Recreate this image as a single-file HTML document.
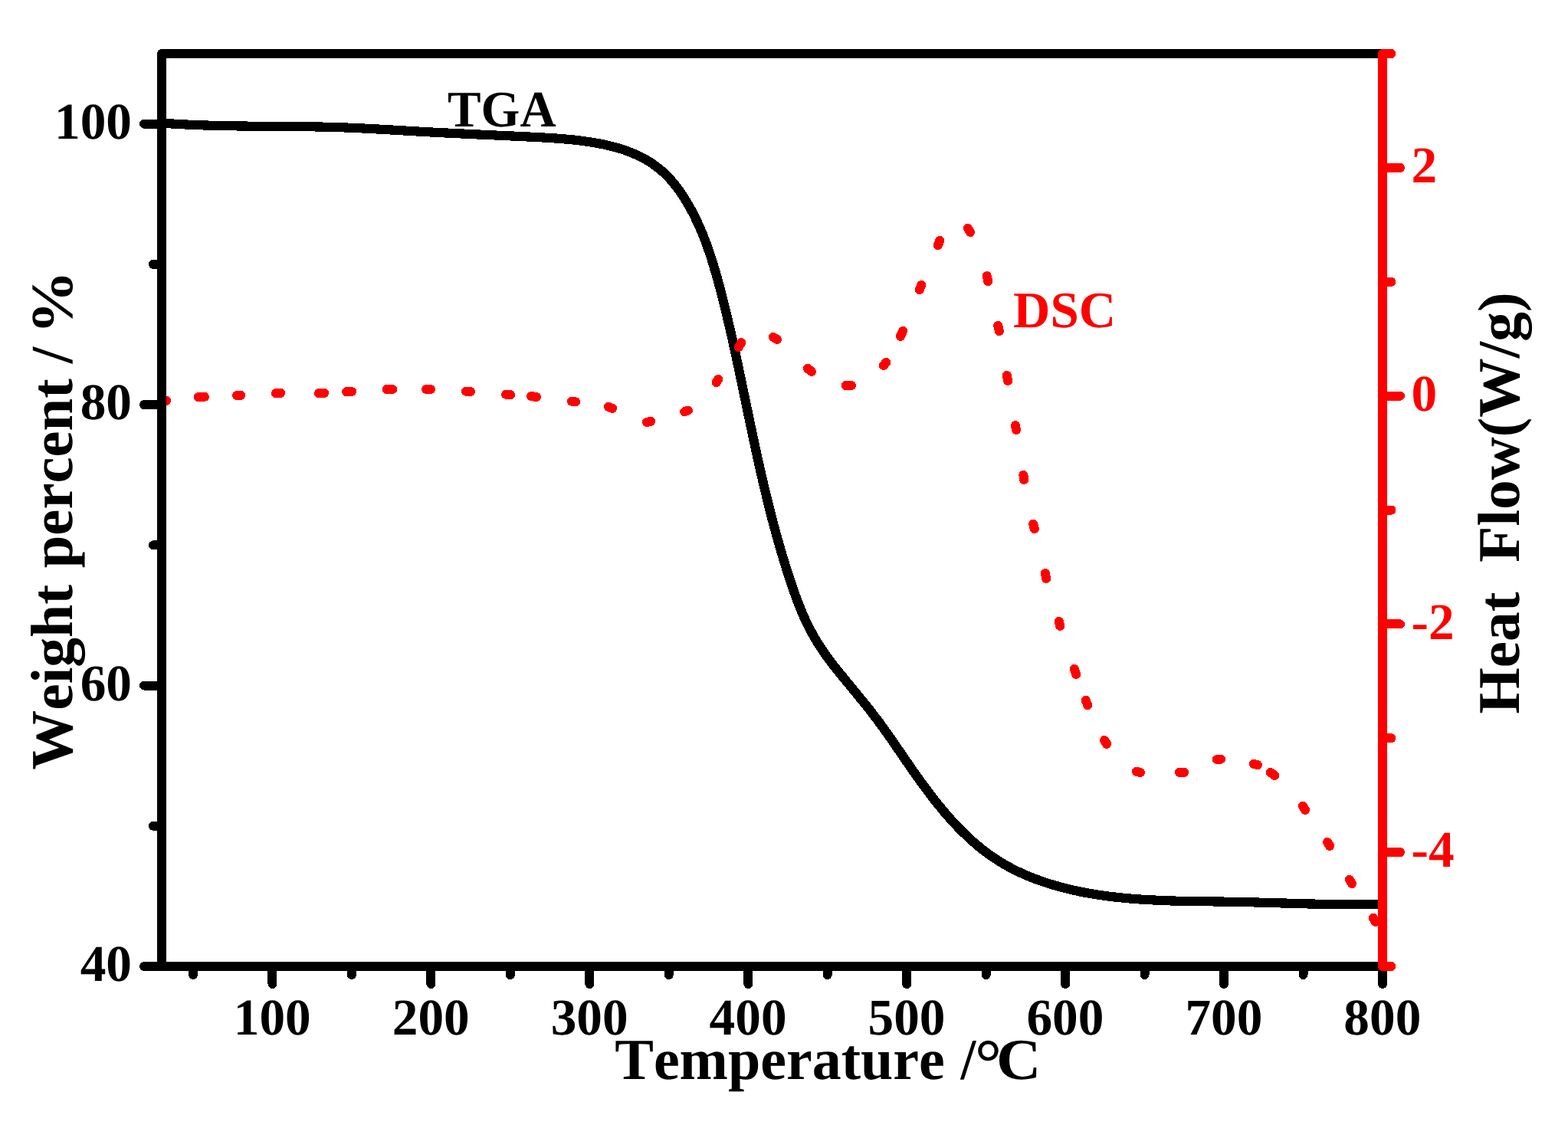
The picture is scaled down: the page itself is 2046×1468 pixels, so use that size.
<!DOCTYPE html>
<html lang="en"><head><meta charset="utf-8"><title>TGA / DSC</title>
<style>
html,body{margin:0;padding:0;background:#fff;}
body{width:2046px;height:1468px;overflow:hidden;}
svg{display:block;}
text{font-family:"Liberation Serif", "DejaVu Serif", serif;font-weight:bold;font-kerning:none;font-variant-ligatures:none;text-rendering:geometricPrecision;}
.ax{fill:none;stroke-width:12;stroke-linecap:round;stroke-linejoin:round;}
</style></head><body>
<svg xmlns="http://www.w3.org/2000/svg" width="2046" height="1468" viewBox="0 0 2046 1468">
<rect width="2046" height="1468" fill="#fff"/>
<path d="M211.0 160.5C212.2 160.6 215.7 160.9 218.0 161.0C220.3 161.2 222.7 161.4 225.0 161.5C227.3 161.7 229.7 161.8 232.0 161.9C234.3 162.1 236.7 162.2 239.0 162.3C241.3 162.4 243.7 162.5 246.0 162.7C248.3 162.8 250.7 162.9 253.0 163.0C255.3 163.1 257.7 163.1 260.0 163.2C262.3 163.3 264.7 163.4 267.0 163.5C269.3 163.5 271.7 163.6 274.0 163.7C276.3 163.8 278.7 163.8 281.0 163.9C283.4 163.9 285.7 164.0 288.0 164.0C290.4 164.1 292.7 164.1 295.0 164.2C297.4 164.2 299.7 164.3 302.0 164.3C304.4 164.3 306.7 164.4 309.1 164.4C311.4 164.4 313.7 164.5 316.1 164.5C318.4 164.5 320.7 164.5 323.1 164.6C325.4 164.6 327.8 164.6 330.1 164.6C332.4 164.6 334.8 164.7 337.1 164.7C339.4 164.7 341.8 164.7 344.1 164.7C346.5 164.8 348.8 164.8 351.1 164.8C353.5 164.8 355.8 164.8 358.1 164.8C360.5 164.9 362.8 164.9 365.2 164.9C367.5 164.9 369.8 164.9 372.2 164.9C374.5 165.0 376.9 165.0 379.2 165.0C381.5 165.0 383.9 165.0 386.2 165.1C388.5 165.1 390.9 165.1 393.2 165.1C395.6 165.2 397.9 165.2 400.2 165.2C402.6 165.3 404.9 165.3 407.2 165.3C409.6 165.4 411.9 165.4 414.2 165.5C416.6 165.5 418.9 165.6 421.3 165.6C423.6 165.7 425.9 165.7 428.3 165.8C430.6 165.8 432.9 165.9 435.3 166.0C437.6 166.0 439.9 166.1 442.3 166.2C444.6 166.3 446.9 166.4 449.3 166.4C451.6 166.5 453.9 166.6 456.3 166.7C458.6 166.8 460.9 166.9 463.3 167.0C465.6 167.1 467.9 167.2 470.3 167.3C472.6 167.4 474.9 167.6 477.3 167.7C479.6 167.8 481.9 167.9 484.3 168.0C486.6 168.2 488.9 168.3 491.3 168.4C493.6 168.5 495.9 168.7 498.3 168.8C500.6 168.9 502.9 169.0 505.2 169.2C507.6 169.3 509.9 169.4 512.2 169.6C514.6 169.7 516.9 169.9 519.2 170.0C521.6 170.1 523.9 170.3 526.2 170.4C528.6 170.5 530.9 170.7 533.2 170.8C535.6 170.9 537.9 171.1 540.2 171.2C542.6 171.4 544.9 171.5 547.2 171.6C549.6 171.8 551.9 171.9 554.2 172.0C556.6 172.2 558.9 172.3 561.2 172.4C563.6 172.5 565.9 172.7 568.2 172.8C570.6 172.9 572.9 173.0 575.2 173.2C577.6 173.3 579.9 173.4 582.2 173.5C584.6 173.6 586.9 173.7 589.3 173.9C591.6 174.0 593.9 174.1 596.3 174.2C598.6 174.3 600.9 174.4 603.3 174.5C605.6 174.6 607.9 174.7 610.3 174.9C612.6 175.0 614.9 175.1 617.3 175.2C619.6 175.3 622.0 175.4 624.3 175.5C626.6 175.6 629.0 175.7 631.3 175.8C633.6 175.9 636.0 176.0 638.3 176.1C640.6 176.2 643.0 176.3 645.3 176.4C647.6 176.6 650.0 176.7 652.3 176.8C654.6 176.9 657.0 177.0 659.3 177.1C661.6 177.2 664.0 177.3 666.3 177.4C668.6 177.5 671.0 177.6 673.3 177.7C675.6 177.8 678.0 177.9 680.3 178.1C682.6 178.2 685.0 178.3 687.3 178.4C689.6 178.5 692.0 178.6 694.3 178.7C696.6 178.8 698.9 179.0 701.3 179.1C703.6 179.2 705.9 179.3 708.3 179.5C710.6 179.6 712.9 179.7 715.2 179.9C717.6 180.0 719.9 180.2 722.2 180.3C724.5 180.5 726.9 180.6 729.2 180.8C731.5 181.0 733.8 181.2 736.2 181.4C738.5 181.6 740.8 181.8 743.1 182.0C745.4 182.2 747.8 182.5 750.1 182.7C752.4 183.0 754.7 183.3 757.1 183.5C759.4 183.8 761.7 184.1 764.0 184.5C766.3 184.8 768.7 185.1 771.0 185.5C773.3 185.9 775.6 186.2 777.9 186.7C780.2 187.1 782.6 187.5 784.9 188.0C787.2 188.4 789.5 188.9 791.8 189.4C794.1 189.9 796.3 190.5 798.6 191.1C800.9 191.6 803.1 192.2 805.4 192.9C807.6 193.5 809.9 194.2 812.1 194.9C814.3 195.7 816.5 196.4 818.7 197.2C820.9 198.0 823.1 198.9 825.2 199.8C827.4 200.7 829.5 201.6 831.6 202.6C833.7 203.5 835.8 204.6 837.9 205.7C839.9 206.7 842.0 207.9 844.0 209.0C846.0 210.2 848.0 211.5 849.9 212.7C851.8 214.0 853.8 215.4 855.6 216.7C857.5 218.1 859.3 219.6 861.1 221.0C862.9 222.5 864.7 224.1 866.4 225.6C868.1 227.2 869.8 228.9 871.4 230.5C873.0 232.2 874.6 233.9 876.1 235.7C877.7 237.4 879.2 239.3 880.6 241.1C882.1 242.9 883.5 244.8 884.9 246.7C886.3 248.6 887.6 250.5 888.9 252.4C890.2 254.4 891.5 256.3 892.8 258.3C894.0 260.3 895.2 262.3 896.4 264.3C897.6 266.3 898.8 268.3 899.9 270.3C901.1 272.4 902.2 274.4 903.3 276.5C904.4 278.5 905.4 280.6 906.5 282.7C907.5 284.8 908.5 286.9 909.5 289.0C910.5 291.1 911.5 293.2 912.4 295.3C913.4 297.4 914.3 299.6 915.2 301.7C916.1 303.9 917.0 306.0 917.8 308.2C918.7 310.4 919.5 312.5 920.4 314.7C921.2 316.9 922.0 319.1 922.8 321.3C923.6 323.5 924.3 325.7 925.1 327.9C925.9 330.1 926.6 332.4 927.3 334.6C928.1 336.8 928.8 339.0 929.5 341.3C930.2 343.5 930.9 345.7 931.5 348.0C932.2 350.2 932.9 352.5 933.5 354.7C934.2 357.0 934.8 359.2 935.5 361.5C936.1 363.8 936.7 366.0 937.3 368.3C938.0 370.6 938.6 372.8 939.2 375.1C939.8 377.3 940.4 379.6 941.0 381.9C941.6 384.2 942.1 386.4 942.7 388.7C943.3 391.0 943.9 393.2 944.4 395.5C945.0 397.8 945.6 400.0 946.1 402.3C946.7 404.6 947.2 406.8 947.8 409.1C948.3 411.4 948.9 413.7 949.4 415.9C950.0 418.2 950.5 420.5 951.0 422.8C951.5 425.0 952.1 427.3 952.6 429.6C953.1 431.9 953.6 434.1 954.2 436.4C954.7 438.7 955.2 441.0 955.7 443.2C956.2 445.5 956.7 447.8 957.2 450.1C957.7 452.3 958.2 454.6 958.7 456.9C959.2 459.2 959.7 461.5 960.2 463.7C960.7 466.0 961.2 468.3 961.7 470.6C962.2 472.9 962.6 475.1 963.1 477.4C963.6 479.7 964.1 482.0 964.6 484.3C965.1 486.6 965.5 488.8 966.0 491.1C966.5 493.4 967.0 495.7 967.5 498.0C967.9 500.3 968.4 502.5 968.9 504.8C969.4 507.1 969.8 509.4 970.3 511.7C970.8 514.0 971.3 516.3 971.7 518.5C972.2 520.8 972.7 523.1 973.2 525.4C973.7 527.7 974.1 530.0 974.6 532.3C975.1 534.5 975.6 536.8 976.0 539.1C976.5 541.4 977.0 543.7 977.5 546.0C978.0 548.3 978.4 550.6 978.9 552.8C979.4 555.1 979.9 557.4 980.4 559.7C980.8 562.0 981.3 564.3 981.8 566.6C982.3 568.8 982.8 571.1 983.3 573.4C983.8 575.7 984.3 578.0 984.7 580.3C985.2 582.6 985.7 584.8 986.2 587.1C986.7 589.4 987.2 591.7 987.7 594.0C988.2 596.3 988.7 598.5 989.2 600.8C989.7 603.1 990.3 605.4 990.8 607.7C991.3 609.9 991.8 612.2 992.3 614.5C992.8 616.8 993.3 619.1 993.9 621.3C994.4 623.6 994.9 625.9 995.4 628.2C996.0 630.4 996.5 632.7 997.0 635.0C997.6 637.3 998.1 639.5 998.7 641.8C999.2 644.1 999.8 646.4 1000.3 648.6C1000.9 650.9 1001.4 653.2 1002.0 655.4C1002.5 657.7 1003.1 660.0 1003.7 662.2C1004.2 664.5 1004.8 666.8 1005.4 669.0C1006.0 671.3 1006.6 673.6 1007.1 675.8C1007.7 678.1 1008.3 680.3 1008.9 682.6C1009.5 684.9 1010.1 687.1 1010.7 689.4C1011.3 691.6 1012.0 693.9 1012.6 696.1C1013.2 698.4 1013.8 700.6 1014.4 702.9C1015.1 705.1 1015.7 707.4 1016.4 709.6C1017.0 711.9 1017.6 714.1 1018.3 716.4C1019.0 718.6 1019.6 720.9 1020.3 723.1C1020.9 725.3 1021.6 727.6 1022.3 729.8C1023.0 732.1 1023.7 734.3 1024.4 736.5C1025.1 738.8 1025.8 741.0 1026.5 743.2C1027.2 745.5 1027.9 747.7 1028.6 749.9C1029.3 752.1 1030.0 754.4 1030.8 756.6C1031.5 758.8 1032.3 761.0 1033.0 763.2C1033.8 765.5 1034.5 767.7 1035.3 769.9C1036.1 772.1 1036.9 774.3 1037.7 776.5C1038.4 778.7 1039.3 780.9 1040.1 783.1C1040.9 785.3 1041.7 787.5 1042.6 789.6C1043.5 791.8 1044.3 794.0 1045.2 796.1C1046.1 798.3 1047.0 800.4 1048.0 802.6C1048.9 804.7 1049.9 806.8 1050.8 808.9C1051.8 811.1 1052.8 813.2 1053.9 815.3C1054.9 817.3 1055.9 819.4 1057.0 821.5C1058.1 823.5 1059.2 825.6 1060.4 827.6C1061.5 829.6 1062.7 831.7 1063.8 833.7C1065.0 835.7 1066.2 837.6 1067.5 839.6C1068.7 841.6 1070.0 843.6 1071.2 845.5C1072.5 847.4 1073.8 849.4 1075.2 851.3C1076.5 853.2 1077.8 855.1 1079.2 857.0C1080.6 858.9 1081.9 860.8 1083.4 862.6C1084.8 864.5 1086.2 866.3 1087.6 868.2C1089.1 870.0 1090.5 871.8 1092.0 873.7C1093.4 875.5 1094.9 877.3 1096.4 879.1C1097.9 881.0 1099.3 882.8 1100.8 884.6C1102.3 886.4 1103.8 888.3 1105.3 890.1C1106.8 891.9 1108.3 893.7 1109.8 895.5C1111.3 897.3 1112.8 899.2 1114.3 901.0C1115.8 902.8 1117.3 904.6 1118.8 906.5C1120.3 908.3 1121.7 910.1 1123.2 911.9C1124.7 913.8 1126.2 915.6 1127.7 917.4C1129.1 919.2 1130.6 921.1 1132.1 922.9C1133.5 924.7 1135.0 926.6 1136.4 928.4C1137.8 930.3 1139.3 932.1 1140.7 934.0C1142.1 935.8 1143.5 937.7 1144.9 939.5C1146.3 941.4 1147.7 943.3 1149.1 945.1C1150.4 947.0 1151.8 948.9 1153.1 950.7C1154.5 952.6 1155.8 954.5 1157.2 956.4C1158.5 958.3 1159.8 960.1 1161.1 962.0C1162.5 963.9 1163.8 965.8 1165.1 967.7C1166.4 969.6 1167.7 971.5 1169.0 973.4C1170.3 975.3 1171.6 977.2 1172.9 979.1C1174.2 981.0 1175.6 982.9 1176.9 984.9C1178.2 986.8 1179.5 988.7 1180.8 990.6C1182.1 992.5 1183.4 994.4 1184.8 996.4C1186.1 998.3 1187.4 1000.2 1188.8 1002.1C1190.1 1004.0 1191.4 1006.0 1192.8 1007.9C1194.1 1009.8 1195.5 1011.7 1196.9 1013.6C1198.2 1015.6 1199.6 1017.5 1201.0 1019.4C1202.4 1021.3 1203.8 1023.2 1205.2 1025.1C1206.6 1027.0 1208.0 1028.9 1209.4 1030.8C1210.8 1032.7 1212.2 1034.6 1213.7 1036.5C1215.1 1038.4 1216.6 1040.3 1218.0 1042.1C1219.5 1044.0 1220.9 1045.9 1222.4 1047.7C1223.9 1049.6 1225.4 1051.4 1226.9 1053.2C1228.4 1055.1 1229.9 1056.9 1231.4 1058.7C1233.0 1060.5 1234.5 1062.3 1236.0 1064.1C1237.6 1065.8 1239.2 1067.6 1240.7 1069.4C1242.3 1071.1 1243.9 1072.9 1245.5 1074.6C1247.1 1076.3 1248.7 1078.0 1250.3 1079.7C1252.0 1081.4 1253.6 1083.1 1255.3 1084.7C1256.9 1086.4 1258.6 1088.0 1260.3 1089.6C1262.0 1091.2 1263.7 1092.8 1265.4 1094.4C1267.1 1096.0 1268.8 1097.5 1270.6 1099.1C1272.3 1100.6 1274.1 1102.1 1275.9 1103.6C1277.7 1105.1 1279.4 1106.5 1281.3 1108.0C1283.1 1109.4 1284.9 1110.8 1286.8 1112.2C1288.6 1113.6 1290.5 1114.9 1292.4 1116.3C1294.2 1117.6 1296.1 1118.9 1298.1 1120.2C1300.0 1121.5 1301.9 1122.7 1303.9 1123.9C1305.8 1125.1 1307.8 1126.3 1309.8 1127.5C1311.8 1128.6 1313.8 1129.8 1315.8 1130.9C1317.8 1132.0 1319.9 1133.1 1321.9 1134.1C1324.0 1135.2 1326.1 1136.2 1328.2 1137.2C1330.2 1138.2 1332.3 1139.2 1334.5 1140.1C1336.6 1141.1 1338.7 1142.0 1340.8 1142.9C1343.0 1143.8 1345.1 1144.7 1347.3 1145.5C1349.5 1146.4 1351.7 1147.2 1353.8 1148.0C1356.0 1148.8 1358.2 1149.6 1360.4 1150.3C1362.6 1151.1 1364.9 1151.8 1367.1 1152.5C1369.3 1153.3 1371.6 1154.0 1373.8 1154.6C1376.1 1155.3 1378.3 1155.9 1380.6 1156.6C1382.8 1157.2 1385.1 1157.8 1387.4 1158.4C1389.7 1159.0 1392.0 1159.6 1394.3 1160.1C1396.5 1160.7 1398.8 1161.2 1401.1 1161.7C1403.5 1162.2 1405.8 1162.7 1408.1 1163.2C1410.4 1163.7 1412.7 1164.1 1415.0 1164.6C1417.3 1165.0 1419.7 1165.4 1422.0 1165.8C1424.3 1166.2 1426.6 1166.6 1429.0 1167.0C1431.3 1167.4 1433.6 1167.7 1436.0 1168.1C1438.3 1168.4 1440.6 1168.8 1443.0 1169.1C1445.3 1169.4 1447.6 1169.7 1450.0 1170.0C1452.3 1170.3 1454.6 1170.5 1457.0 1170.8C1459.3 1171.0 1461.6 1171.3 1464.0 1171.5C1466.3 1171.8 1468.6 1172.0 1471.0 1172.2C1473.3 1172.4 1475.6 1172.6 1477.9 1172.8C1480.3 1173.0 1482.6 1173.1 1484.9 1173.3C1487.3 1173.5 1489.6 1173.6 1491.9 1173.8C1494.2 1173.9 1496.6 1174.1 1498.9 1174.2C1501.2 1174.3 1503.5 1174.4 1505.9 1174.5C1508.2 1174.7 1510.5 1174.8 1512.8 1174.9C1515.2 1175.0 1517.5 1175.0 1519.8 1175.1C1522.1 1175.2 1524.5 1175.3 1526.8 1175.4C1529.1 1175.4 1531.4 1175.5 1533.8 1175.6C1536.1 1175.6 1538.4 1175.7 1540.7 1175.7C1543.1 1175.8 1545.4 1175.8 1547.7 1175.9C1550.0 1175.9 1552.4 1176.0 1554.7 1176.0C1557.0 1176.0 1559.3 1176.1 1561.7 1176.1C1564.0 1176.1 1566.3 1176.2 1568.7 1176.2C1571.0 1176.2 1573.3 1176.3 1575.6 1176.3C1578.0 1176.3 1580.3 1176.3 1582.6 1176.4C1585.0 1176.4 1587.3 1176.4 1589.6 1176.5C1591.9 1176.5 1594.3 1176.5 1596.6 1176.6C1598.9 1176.6 1601.3 1176.6 1603.6 1176.7C1605.9 1176.7 1608.3 1176.8 1610.6 1176.8C1612.9 1176.8 1615.3 1176.9 1617.6 1176.9C1620.0 1177.0 1622.3 1177.0 1624.6 1177.1C1627.0 1177.2 1629.3 1177.2 1631.6 1177.3C1634.0 1177.3 1636.3 1177.4 1638.7 1177.5C1641.0 1177.5 1643.3 1177.6 1645.7 1177.7C1648.0 1177.7 1650.4 1177.8 1652.7 1177.9C1655.1 1177.9 1657.4 1178.0 1659.7 1178.1C1662.1 1178.1 1664.4 1178.2 1666.8 1178.3C1669.1 1178.3 1671.5 1178.4 1673.8 1178.5C1676.1 1178.5 1678.5 1178.6 1680.8 1178.7C1683.2 1178.7 1685.5 1178.8 1687.9 1178.9C1690.2 1179.0 1692.5 1179.0 1694.9 1179.1C1697.2 1179.1 1699.6 1179.2 1701.9 1179.3C1704.3 1179.3 1706.6 1179.4 1708.9 1179.5C1711.3 1179.5 1713.6 1179.6 1716.0 1179.6C1718.3 1179.7 1720.6 1179.7 1723.0 1179.8C1725.3 1179.8 1727.7 1179.9 1730.0 1179.9C1732.3 1180.0 1734.7 1180.0 1737.0 1180.0C1739.4 1180.1 1741.7 1180.1 1744.0 1180.1C1746.4 1180.2 1748.7 1180.2 1751.0 1180.2C1753.4 1180.2 1755.7 1180.2 1758.0 1180.3C1760.4 1180.3 1762.7 1180.3 1765.0 1180.3C1767.4 1180.3 1769.7 1180.3 1772.0 1180.3C1774.4 1180.3 1776.7 1180.3 1779.0 1180.2C1781.3 1180.2 1783.7 1180.2 1786.0 1180.2C1788.3 1180.1 1790.6 1180.1 1793.0 1180.1C1795.3 1180.0 1798.8 1179.9 1799.9 1179.9" fill="none" stroke="#000" stroke-width="12.2" stroke-linejoin="round" stroke-linecap="butt" shape-rendering="crispEdges"/>
<path d="M210.8 523.2L217.2 522.8M258.8 518.2L267.0 517.8M309.0 516.0L314.2 515.8M359.9 513.1L366.1 512.9M416.0 513.1L423.0 512.9M452.1 511.2L459.1 511.0M504.7 508.0L512.1 508.0M556.0 508.0L562.0 508.0M608.0 510.7L614.0 511.1M660.1 514.8L666.1 515.2M693.1 517.0L700.1 518.0M745.9 523.7L751.1 524.3M793.9 530.9L799.1 532.9M843.9 551.0L849.1 549.8M893.1 537.3L897.9 535.7M934.8 499.1L937.2 494.9M963.9 452.9L967.3 447.1M1008.9 439.9L1014.1 442.9M1053.9 480.8L1059.1 485.0M1103.8 503.0L1111.0 503.0M1152.9 476.9L1156.3 472.9M1174.9 438.9L1178.1 431.9M1199.8 378.1L1202.2 371.9M1223.9 320.1L1226.3 313.9M1262.9 297.9L1266.1 303.1M1287.8 360.1L1289.2 367.1M1302.3 425.0L1303.9 432.2M1313.9 489.9L1315.1 497.1M1325.0 554.9L1326.0 561.1M1335.4 619.8L1336.2 626.0M1348.1 683.8L1349.9 690.2M1363.8 748.0L1365.2 755.0M1381.7 810.8L1383.3 817.0M1401.9 872.9L1404.1 880.1M1416.9 913.9L1419.1 920.1M1441.0 965.9L1444.2 970.9M1482.9 1006.8L1488.1 1008.0M1539.0 1007.8L1545.0 1007.8M1587.9 991.0L1593.1 990.6M1635.9 996.8L1640.9 998.2M1657.8 1007.9L1663.2 1011.9M1699.8 1051.7L1703.2 1056.9M1732.0 1098.9L1735.2 1103.9M1760.9 1147.9L1764.1 1153.1M1791.7 1197.7L1794.7 1202.9" fill="none" stroke="#f00" stroke-width="12" stroke-linecap="round" shape-rendering="crispEdges"/>
<g class="ax" stroke="#000" shape-rendering="crispEdges">
<path d="M211 1261 L211 70 L1804 70" stroke-linecap="butt"/>
<path d="M211 1261 L1804 1261" stroke-linecap="butt"/>
<path d="M211 1261.00 h-23 M211 1077.77 h-11 M211 894.54 h-23 M211 711.31 h-11 M211 528.08 h-23 M211 344.85 h-11 M211 161.62 h-23 M252.00 1261 v11 M355.47 1261 v23 M458.93 1261 v11 M562.40 1261 v23 M665.87 1261 v11 M769.33 1261 v23 M872.80 1261 v11 M976.27 1261 v23 M1079.73 1261 v11 M1183.20 1261 v23 M1286.67 1261 v11 M1390.13 1261 v23 M1493.60 1261 v11 M1597.07 1261 v23 M1700.53 1261 v11 M1804.00 1261 v23"/>
</g>
<g class="ax" stroke="#f00" shape-rendering="crispEdges">
<path d="M1804 70 V1261 M1804 1261.00 h11.5 M1804 1112.12 h23 M1804 963.25 h11.5 M1804 814.38 h23 M1804 665.50 h11.5 M1804 516.62 h23 M1804 367.75 h11.5 M1804 218.88 h23 M1804 70.00 h11.5"/>
</g>
<text transform="translate(172.00 1280.30)" font-size="67.3" fill="#000" text-anchor="end">40</text>
<text transform="translate(172.00 913.84)" font-size="67.3" fill="#000" text-anchor="end">60</text>
<text transform="translate(172.00 547.38)" font-size="67.3" fill="#000" text-anchor="end">80</text>
<text transform="translate(172.00 180.92)" font-size="67.3" fill="#000" text-anchor="end">100</text>
<text transform="translate(355.27 1350.00)" font-size="67.3" fill="#000" text-anchor="middle">100</text>
<text transform="translate(562.20 1350.00)" font-size="67.3" fill="#000" text-anchor="middle">200</text>
<text transform="translate(769.13 1350.00)" font-size="67.3" fill="#000" text-anchor="middle">300</text>
<text transform="translate(976.07 1350.00)" font-size="67.3" fill="#000" text-anchor="middle">400</text>
<text transform="translate(1183.00 1350.00)" font-size="67.3" fill="#000" text-anchor="middle">500</text>
<text transform="translate(1389.93 1350.00)" font-size="67.3" fill="#000" text-anchor="middle">600</text>
<text transform="translate(1596.87 1350.00)" font-size="67.3" fill="#000" text-anchor="middle">700</text>
<text transform="translate(1803.80 1350.00)" font-size="67.3" fill="#000" text-anchor="middle">800</text>
<text transform="translate(1841.60 238.18)" font-size="67.3" fill="#f00" text-anchor="start">2</text>
<text transform="translate(1841.60 535.92)" font-size="67.3" fill="#f00" text-anchor="start">0</text>
<text transform="translate(1841.60 833.67)" font-size="67.3" fill="#f00" text-anchor="start">-2</text>
<text transform="translate(1841.60 1131.42)" font-size="67.3" fill="#f00" text-anchor="start">-4</text>
<text transform="translate(94.30 1004.50) rotate(-90)" font-size="77.7" fill="#000">Weight <tspan x="263.20" textLength="247.12" lengthAdjust="spacingAndGlyphs">percent</tspan> <tspan x="530.20">/</tspan> <tspan x="568.60" textLength="83.14" lengthAdjust="spacingAndGlyphs">%</tspan></text>
<text transform="translate(1982.30 656.40) rotate(-90)" font-size="77.4" fill="#000" text-anchor="middle" xml:space="preserve" style="white-space:pre">Heat  Flow(W/g)</text>
<text transform="translate(802.20 1408.20)" font-size="76" fill="#000">Temperature <tspan x="451.40" textLength="19.85" lengthAdjust="spacingAndGlyphs">/</tspan><tspan x="469.70" y="8.10" font-size="87.6">°</tspan><tspan x="497.80" y="0" textLength="58.45" lengthAdjust="spacingAndGlyphs">C</tspan></text>
<text transform="translate(584.00 164.80) scale(0.9750 1.0000)" font-size="67" fill="#000" text-anchor="start">TGA</text>
<text transform="translate(1322.00 427.00)" font-size="67" fill="#f00" text-anchor="start">DSC</text>
</svg>
</body></html>
